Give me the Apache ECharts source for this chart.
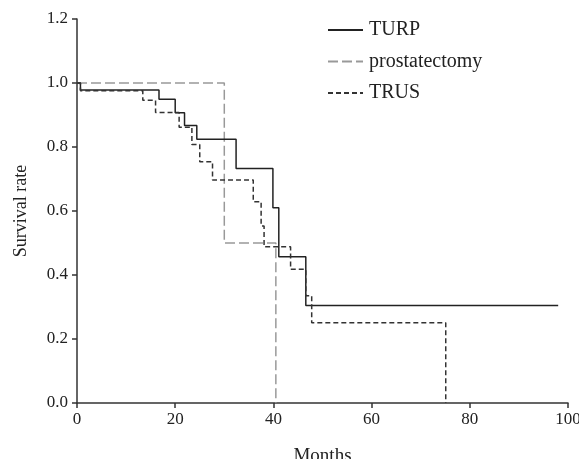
<!DOCTYPE html>
<html>
<head>
<meta charset="utf-8">
<script src="https://cdn.jsdelivr.net/npm/echarts@6/dist/echarts.min.js"></script>
<style>html,body{margin:0;padding:0;background:#fff}#c{width:579px;height:459px}</style>
</head>
<body>
<div id="c"></div>
<script>
// Kaplan-Meier step data: [month, survival]
var turp = [[0,1.0],[0.7,0.978],[16.7,0.949],[20,0.907],[21.9,0.867],[24.4,0.824],[32.4,0.733],[39.9,0.610],[41.1,0.457],[46.6,0.305],[98,0.305]];
var prostatectomy = [[0,1.0],[30,0.5],[40.5,0.0]];
var trus = [[0,1.0],[0.7,0.976],[13.4,0.946],[16,0.908],[20.8,0.862],[23.4,0.808],[25,0.754],[27.6,0.697],[35.9,0.629],[37.5,0.553],[38.1,0.488],[43.5,0.418],[46.6,0.335],[47.8,0.251],[75.1,0.0]];
var seriesNames = ['TURP','prostatectomy','TRUS'];
var xTicks = [0,20,40,60,80,100];
var yTicks = [0,0.2,0.4,0.6,0.8,1.0,1.2];

var font = 'Liberation Serif, Times New Roman, serif';
var chart = echarts.init(document.getElementById('c'), null, {renderer:'canvas'});
chart.setOption({
  animation:false,
  backgroundColor:'#fff',
  grid:{left:77,right:11,top:19,bottom:56,containLabel:false,outerBoundsMode:'none'},
  legend:{
    orient:'vertical', left:327, top:20, padding:0, itemWidth:35, itemHeight:14, itemGap:11.5,
    data:seriesNames,
    textStyle:{fontFamily:font,fontSize:20,color:'#222',padding:[0,0,0,1]},
    itemStyle:{opacity:0}
  },
  xAxis:{
    type:'value', min:xTicks[0], max:xTicks[xTicks.length-1], interval:20,
    name:'Months', nameLocation:'middle', nameGap:44,
    nameTextStyle:{fontFamily:font,fontSize:19,color:'#222'},
    axisLine:{show:true,lineStyle:{color:'#333',width:1.5}},
    axisTick:{show:true,length:5,lineStyle:{color:'#333',width:1.5}},
    axisLabel:{fontFamily:font,fontSize:17,color:'#222',margin:8},
    splitLine:{show:false}
  },
  yAxis:{
    type:'value', min:yTicks[0], max:yTicks[yTicks.length-1], interval:0.2,
    name:'Survival rate', nameLocation:'middle', nameGap:47, nameRotate:90,
    nameTextStyle:{fontFamily:font,fontSize:18,color:'#222'},
    axisLine:{show:true,lineStyle:{color:'#333',width:1.5}},
    axisTick:{show:true,length:5,lineStyle:{color:'#333',width:1.5}},
    axisLabel:{fontFamily:font,fontSize:17,color:'#222',margin:9,formatter:function(v){return v.toFixed(1);}},
    splitLine:{show:false}
  },
  series:[
    {name:seriesNames[0],type:'line',step:'end',data:turp,symbol:'none',
     lineStyle:{color:'#222',width:1.5,type:'solid'},itemStyle:{color:'#222'},z:3},
    {name:seriesNames[1],type:'line',step:'end',data:prostatectomy,symbol:'none',
     lineStyle:{color:'#999',width:1.5,type:[10,4]},itemStyle:{color:'#999'},z:2},
    {name:seriesNames[2],type:'line',step:'end',data:trus,symbol:'none',
     lineStyle:{color:'#333',width:1.5,type:[5,3]},itemStyle:{color:'#333'},z:4}
  ]
});
</script>
</body>
</html>
